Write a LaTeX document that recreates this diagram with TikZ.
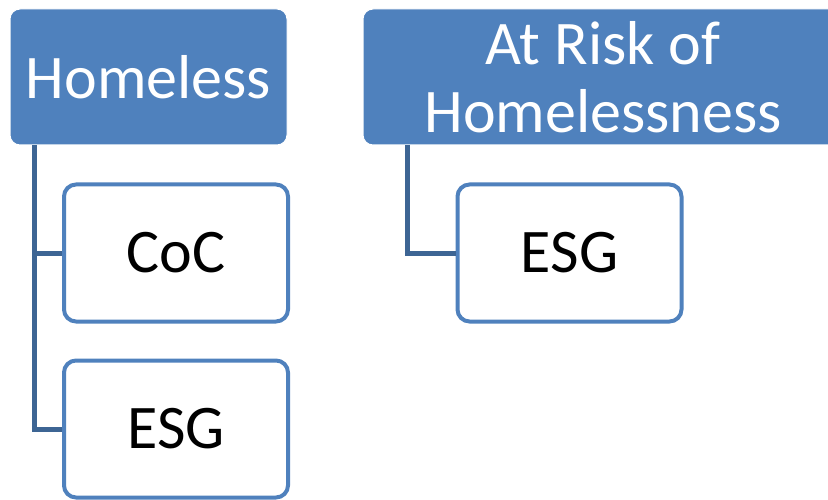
\documentclass[tikz,border=0pt]{standalone}
\usepackage{fontspec}
\setmainfont{Carlito}
\usepackage{tikz}
\usetikzlibrary{positioning}

\definecolor{hudblue}{HTML}{4F81BD}
\definecolor{hudline}{HTML}{3D6594}

\begin{document}
\begin{tikzpicture}[
        x = 1pt, y = -1pt,
        head/.style = {fill=hudblue, draw=white, line width=1pt, rounded corners=10pt,
            text=white, align=center, inner sep=0pt, minimum height=136pt,
            font=\fontsize{62}{68}\selectfont},
        box/.style = {draw=hudblue, fill=white, line width=4pt, rounded corners=12pt,
            minimum width=224pt, minimum height=137pt, inner sep=0pt,
            font=\fontsize{62}{68}\selectfont},
        link/.style = {draw=hudline, line width=5pt}
    ]
    \useasboundingbox (0,0) rectangle (828,500);

    \node[head, minimum width=277pt] (homeless) at (148.5,77) {Homeless};
    \node[head, minimum width=480pt] (risk) at (603,77) {At Risk of\\Homelessness};

    \node[box] (coc) at (176,253) {CoC};
    \node[box] (esgl) at (176,429) {ESG};
    \node[box] (esgr) at (569.5,253) {ESG};

    % Connectors
    \draw[link] ([xshift=24.5pt]homeless.south west) |- (esgl.west);
    \draw[link] ([xshift=24.5pt]homeless.south west |- coc.west) -- (coc.west);
    \draw[link] ([xshift=45pt]risk.south west) |- (esgr.west);

    \end{tikzpicture}
\end{document}
